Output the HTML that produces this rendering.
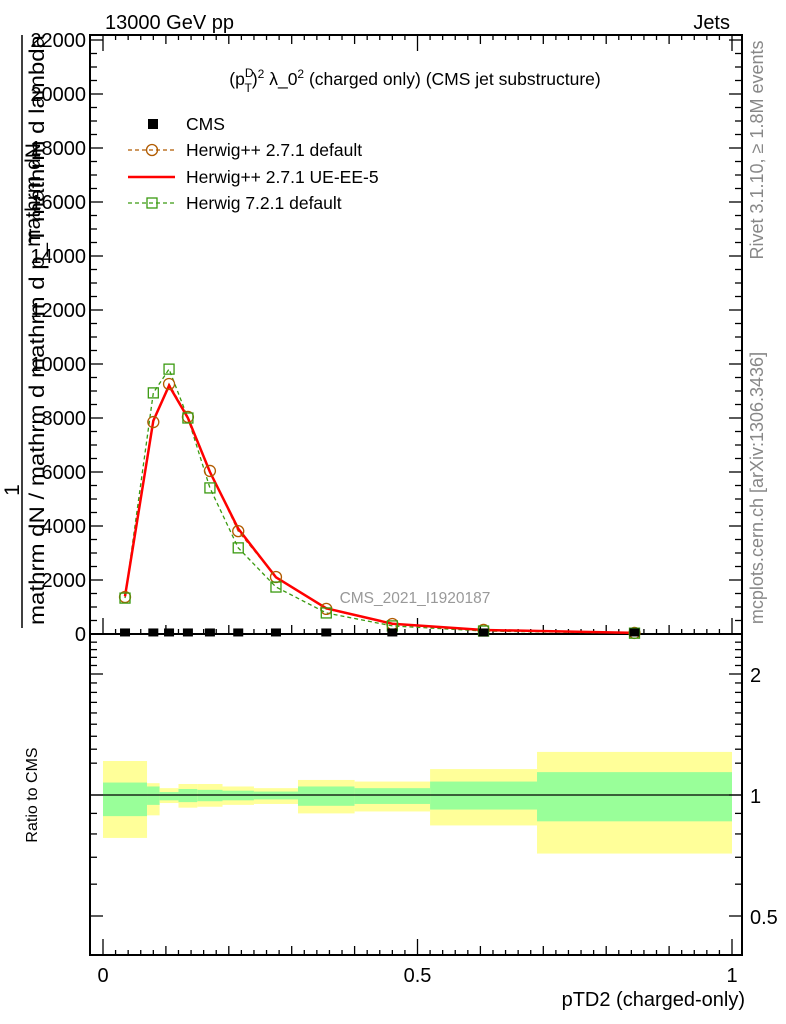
<!DOCTYPE html>
<html><head><meta charset="utf-8"><style>
html,body{margin:0;padding:0;background:#fff;}
svg{display:block;font-family:"Liberation Sans",sans-serif;}
</style></head><body>
<svg id="c" width="786" height="1024" viewBox="0 0 786 1024" xmlns="http://www.w3.org/2000/svg">
<text x="105" y="29" font-size="20">13000 GeV pp</text>
<text x="730" y="29" font-size="20" text-anchor="end">Jets</text>
<text x="415" y="85" font-size="17.5" text-anchor="middle">(p<tspan font-size="12" dy="-8">D</tspan><tspan font-size="12" dx="-9" dy="15">T</tspan><tspan dy="-7">)</tspan><tspan font-size="12" dy="-7">2</tspan><tspan dy="7"> λ_0</tspan><tspan font-size="12" dy="-7">2</tspan><tspan dy="7"> (charged only) (CMS jet substructure)</tspan></text>
<text x="415" y="603" font-size="15.5" fill="#999" text-anchor="middle">CMS_2021_I1920187</text>
<text transform="translate(763,150) rotate(-90)" font-size="18" fill="#888" text-anchor="middle">Rivet 3.1.10, ≥ 1.8M events</text>
<text transform="translate(763,488) rotate(-90)" font-size="18" fill="#888" text-anchor="middle">mcplots.cern.ch [arXiv:1306.3436]</text>
<g font-size="21">
<text transform="translate(19,490) rotate(-90)" text-anchor="middle">1</text>
<text transform="translate(40,195) rotate(-90)" text-anchor="middle">mathrm dN</text>
<line x1="22" y1="35" x2="22" y2="628" stroke="#000" stroke-width="1.5"/>
<text transform="translate(44,330) rotate(-90)" text-anchor="middle" textLength="590" lengthAdjust="spacingAndGlyphs">mathrm dN / mathrm d mathrm d p_T mathrm d lambda</text>
</g>
<text x="745" y="1006" font-size="20" text-anchor="end">pTD2 (charged-only)</text>
<text transform="translate(37,795) rotate(-90)" font-size="16" text-anchor="middle">Ratio to CMS</text>
<g id="legend" font-size="17.5">
<g><rect x="148" y="119" width="10" height="10" fill="#000"/><text x="186" y="130">CMS</text></g>
<g><line x1="128" y1="150" x2="175" y2="150" stroke="#b15b00" stroke-dasharray="4,3" stroke-width="1.3"/><circle cx="152" cy="150" r="5.5" fill="none" stroke="#b15b00" stroke-width="1.3"/><text x="186" y="156">Herwig++ 2.7.1 default</text></g>
<g><line x1="128" y1="177" x2="175" y2="177" stroke="#f00" stroke-width="2.5"/><text x="186" y="183">Herwig++ 2.7.1 UE-EE-5</text></g>
<g><line x1="128" y1="203" x2="175" y2="203" stroke="#3a9a10" stroke-dasharray="4,3" stroke-width="1.3"/><rect x="147" y="198" width="10" height="10" fill="none" stroke="#3a9a10" stroke-width="1.3"/><text x="186" y="209">Herwig 7.2.1 default</text></g>
</g>
</svg>
<script>
const binEdges=[0,0.07,0.09,0.12,0.15,0.19,0.24,0.31,0.40,0.52,0.69,1.0];
const cmsValues=[20,20,20,20,20,20,20,20,20,20,20];
const hppDefault=[1370,7850,9260,8040,6040,3810,2110,930,370,150,40];
const hppUEEE5=[1400,7900,9200,8000,6000,3900,2100,950,380,150,40];
const h7Default=[1330,8930,9810,8000,5410,3190,1740,780,300,110,30];
const yellowUp=[1.215,1.07,1.04,1.065,1.065,1.05,1.04,1.09,1.08,1.16,1.28];
const yellowDn=[0.782,0.89,0.955,0.93,0.935,0.945,0.95,0.9,0.91,0.84,0.715];
const greenUp=[1.074,1.05,1.017,1.035,1.03,1.025,1.02,1.05,1.04,1.08,1.14];
const greenDn=[0.886,0.945,0.97,0.96,0.965,0.97,0.975,0.94,0.95,0.92,0.86];
const yTicks=[0,2000,4000,6000,8000,10000,12000,14000,16000,18000,20000,22000];
const rTicks=[0.5,1,2];
const xTicks=[0,0.5,1];

const NS="http://www.w3.org/2000/svg";
const svg=document.getElementById('c');
const L=90,R=742,T=35,MB=634,RB=955;
const X=v=>103+629*v;
const Y=v=>634-v*0.027;
const RY=r=>795-121*Math.log2(r);
function mk(tag,attrs,parent){const e=document.createElementNS(NS,tag);for(const k in attrs)e.setAttribute(k,attrs[k]);(parent||svg).appendChild(e);return e;}
const mids=[];for(let i=0;i<binEdges.length-1;i++)mids.push((binEdges[i]+binEdges[i+1])/2);

const bands=mk('g',{});


for(let i=0;i<mids.length;i++){
  const y=mk('rect',{x:X(binEdges[i]),width:X(binEdges[i+1])-X(binEdges[i]),y:RY(yellowUp[i]),height:RY(yellowDn[i])-RY(yellowUp[i]),fill:'#ffff99'},bands);
  
  
  const g=mk('rect',{x:X(binEdges[i]),width:X(binEdges[i+1])-X(binEdges[i]),y:RY(greenUp[i]),height:RY(greenDn[i])-RY(greenUp[i]),fill:'#99ff99'},bands);
  
  
}
const one=mk('line',{x1:L,x2:R,y1:RY(1),y2:RY(1),stroke:'#000','stroke-width':1.3});



const f1=mk('rect',{x:L,y:T,width:R-L,height:MB-T,fill:'none',stroke:'#000','stroke-width':2});


const f2=mk('rect',{x:L,y:MB,width:R-L,height:RB-MB,fill:'none',stroke:'#000','stroke-width':2});



const ax=mk('g',{stroke:'#000','stroke-width':1.3});


for(let v=0;v<=22500;v+=500){const y=Y(v);if(y<T)break;const len=v%2000===0?13:7;
  mk('line',{x1:L,x2:L+len,y1:y,y2:y},ax);mk('line',{x1:R,x2:R-len,y1:y,y2:y},ax);}
yTicks.forEach(v=>{const t=mk('text',{x:86,y:Y(v)+7,'font-size':20,'text-anchor':'end'});t.textContent=v;
  
  });
for(let k=0;k<=50;k++){const v=k/50;const len=k%25===0?16:(k%5===0?9:5);
  mk('line',{x1:X(v),x2:X(v),y1:MB,y2:MB-len},ax);mk('line',{x1:X(v),x2:X(v),y1:T,y2:T+len},ax);
  mk('line',{x1:X(v),x2:X(v),y1:RB,y2:RB-len},ax);}
xTicks.forEach(v=>{const t=mk('text',{x:X(v),y:982,'font-size':20,'text-anchor':'middle'});t.textContent=v;
  
  });
const rmin=[0.4,0.6,0.7,0.8,0.9,1.2,1.3,1.4,1.5,1.6,1.7,1.8,1.9,2.1,2.2,2.3,2.4];
rmin.forEach(r=>{const y=RY(r);if(y<MB||y>RB)return;mk('line',{x1:L,x2:L+7,y1:y,y2:y},ax);mk('line',{x1:R,x2:R-7,y1:y,y2:y},ax);});
rTicks.forEach(r=>{const y=RY(r);mk('line',{x1:L,x2:L+13,y1:y,y2:y},ax);mk('line',{x1:R,x2:R-13,y1:y,y2:y},ax);
  const t=mk('text',{x:750,y:y+8,'font-size':20});t.textContent=r;
  
  });

function line(vals,attrs,name){const p=mk('polyline',Object.assign({points:vals.map((v,i)=>X(mids[i])+','+Y(v)).join(' '),fill:'none'},attrs));
  
  }
line(h7Default,{stroke:'#3a9a10','stroke-width':1.3,'stroke-dasharray':'4,3'},'herwig7-line');
line(hppDefault,{stroke:'#b15b00','stroke-width':1.3,'stroke-dasharray':'4,3'},'herwigpp-default-line');
line(hppUEEE5,{stroke:'#f00','stroke-width':2.5},'herwigpp-ueee5-line');
mids.forEach((m,i)=>{
  const c=mk('circle',{cx:X(m),cy:Y(hppDefault[i]),r:5.5,fill:'none',stroke:'#b15b00','stroke-width':1.3});
  
  
  const s=mk('rect',{x:X(m)-5,y:Y(h7Default[i])-5,width:10,height:10,fill:'none',stroke:'#3a9a10','stroke-width':1.3});
  
  
  const d=mk('rect',{x:X(m)-5,y:Y(cmsValues[i])-5,width:10,height:8,fill:'#000'});
  
  
});
</script>
</body></html>
